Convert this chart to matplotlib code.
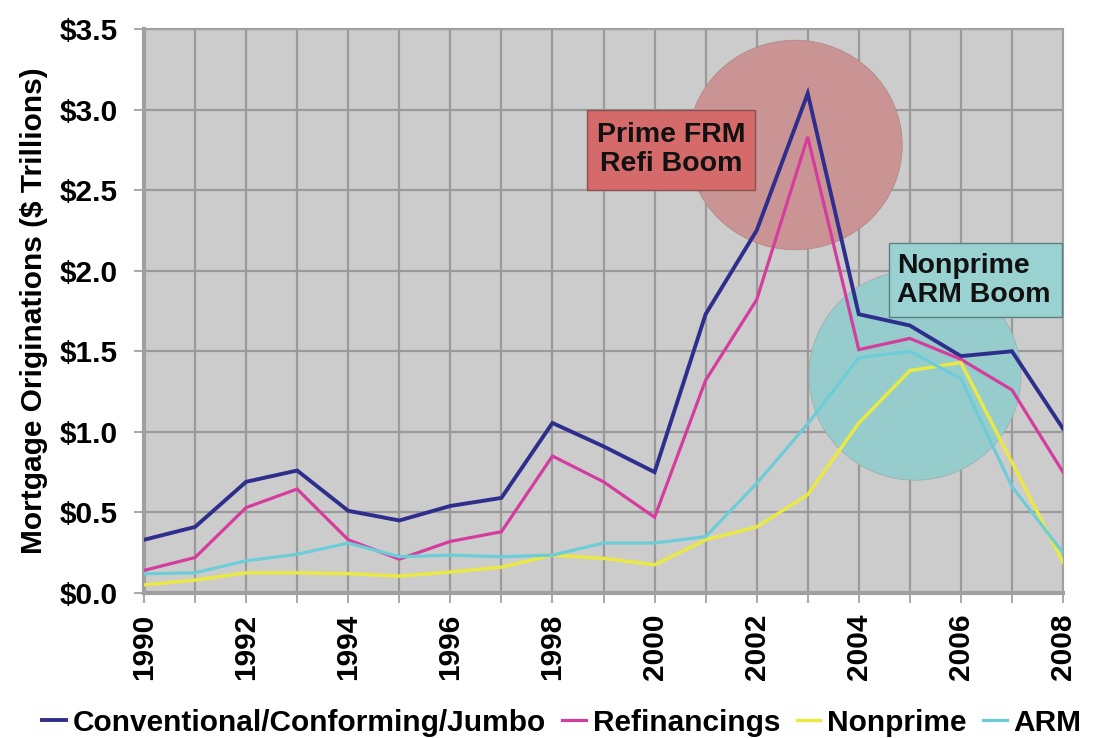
import matplotlib
matplotlib.use("Agg")
import matplotlib.pyplot as plt
from matplotlib.patches import Ellipse, Rectangle
from matplotlib.ticker import MultipleLocator, FuncFormatter

plt.rcParams['font.family'] = ['Liberation Sans', 'DejaVu Sans']
plt.rcParams['font.weight'] = 'bold'

# Mortgage originations, $ trillions
years = list(range(1990, 2009))
conventional = [0.33, 0.41, 0.69, 0.76, 0.51, 0.45, 0.54, 0.59, 1.055, 0.91, 0.75,
                1.73, 2.25, 3.10, 1.73, 1.66, 1.47, 1.50, 1.02]
refinancings = [0.14, 0.22, 0.53, 0.645, 0.33, 0.21, 0.32, 0.38, 0.85, 0.69, 0.47,
                1.32, 1.82, 2.83, 1.51, 1.58, 1.45, 1.26, 0.75]
nonprime = [0.05, 0.08, 0.125, 0.125, 0.12, 0.105, 0.13, 0.16, 0.235, 0.215, 0.175,
            0.33, 0.41, 0.61, 1.055, 1.38, 1.43, 0.81, 0.19]
arm = [0.12, 0.125, 0.20, 0.24, 0.31, 0.225, 0.235, 0.225, 0.235, 0.31, 0.31,
       0.35, 0.68, 1.05, 1.46, 1.50, 1.33, 0.66, 0.25]

series_labels = ["Conventional/Conforming/Jumbo", "Refinancings", "Nonprime", "ARM"]
series_colors = ["#2E2E8C", "#D43C9E", "#EAE844", "#6CCCD8"]
series_widths = [2.8, 2.3, 2.5, 2.3]

FS_TICK = 21.5
FS_LABEL = 21.5
FS_LEG = 21.5
FS_BOX = 20.5

fig = plt.figure(figsize=(10.95, 7.38), dpi=100)
ax = fig.add_axes([0.1315, 0.1965, 0.8393, 0.7642])
ax.set_facecolor("#CCCCCC")

ax.set_xlim(1990, 2008)
ax.set_ylim(0, 3.5)

ax.xaxis.set_major_locator(MultipleLocator(2))
ax.xaxis.set_minor_locator(MultipleLocator(1))
ax.yaxis.set_major_locator(MultipleLocator(0.5))
ax.yaxis.set_major_formatter(FuncFormatter(lambda v, p: f"${v:.1f}"))

ax.grid(True, which="both", axis="x", color="#9A9A9A", lw=1.6, zorder=0)
ax.grid(True, which="major", axis="y", color="#9A9A9A", lw=1.6, zorder=0)
ax.set_axisbelow(True)

ax.tick_params(axis="both", which="both", direction="out", color="#9A9A9A",
               width=1.2, length=7, labelsize=FS_TICK)
ax.tick_params(axis="x", which="major", pad=8, labelrotation=90)
ax.tick_params(axis="y", pad=12)
for lab in ax.get_xticklabels() + ax.get_yticklabels():
    lab.set_fontweight("bold")

for side, sp in ax.spines.items():
    sp.set_color("#A0A0A0")
    sp.set_linewidth(1.5)
ax.spines["left"].set_linewidth(3)
ax.spines["bottom"].set_linewidth(3)

ax.set_ylabel("Mortgage Originations ($ Trillions)", fontsize=FS_LABEL,
              fontweight="bold", labelpad=8)

# highlight ellipses behind the series
ax.add_patch(Ellipse((2002.75, 2.78), 4.2, 1.30, facecolor="#CA9494",
                     edgecolor="#B08888", lw=0.6, zorder=1))
ax.add_patch(Ellipse((2005.1, 1.35), 4.15, 1.30, facecolor="#96CCCC",
                     edgecolor="#9AB0B0", lw=0.6, zorder=1))

handles = []
for vals, lab, col, lw in zip([conventional, refinancings, nonprime, arm],
                              series_labels, series_colors, series_widths):
    h, = ax.plot(years, vals, color=col, lw=lw, label=lab, zorder=3,
                 solid_joinstyle="miter")
    handles.append(h)

# callout boxes
ax.add_patch(Rectangle((1998.68, 2.50), 3.29, 0.50, facecolor="#D46A6A",
                       edgecolor="#8A5050", lw=1.0, zorder=4))
ax.text(2000.32, 2.75, "Prime FRM\nRefi Boom", ha="center", va="center",
        fontsize=FS_BOX, fontweight="bold", color="#111111", linespacing=1.15,
        zorder=5)

ax.add_patch(Rectangle((2004.59, 1.713), 3.39, 0.457, facecolor="#9AD2D2",
                       edgecolor="#5A8080", lw=1.0, zorder=4, clip_on=False))
ax.text(2004.75, 1.94, "Nonprime\nARM Boom", ha="left", va="center",
        fontsize=FS_BOX, fontweight="bold", color="#111111", linespacing=1.15,
        zorder=5)

leg = fig.legend(handles=handles, loc="center", bbox_to_anchor=(0.513, 0.021),
                 ncol=4, frameon=False, fontsize=FS_LEG, handlelength=0.8,
                 handletextpad=0.22, columnspacing=0.55, borderaxespad=0,
                 borderpad=0)
for t in leg.get_texts():
    t.set_fontweight("bold")

fig.savefig("out.png", dpi=100)
